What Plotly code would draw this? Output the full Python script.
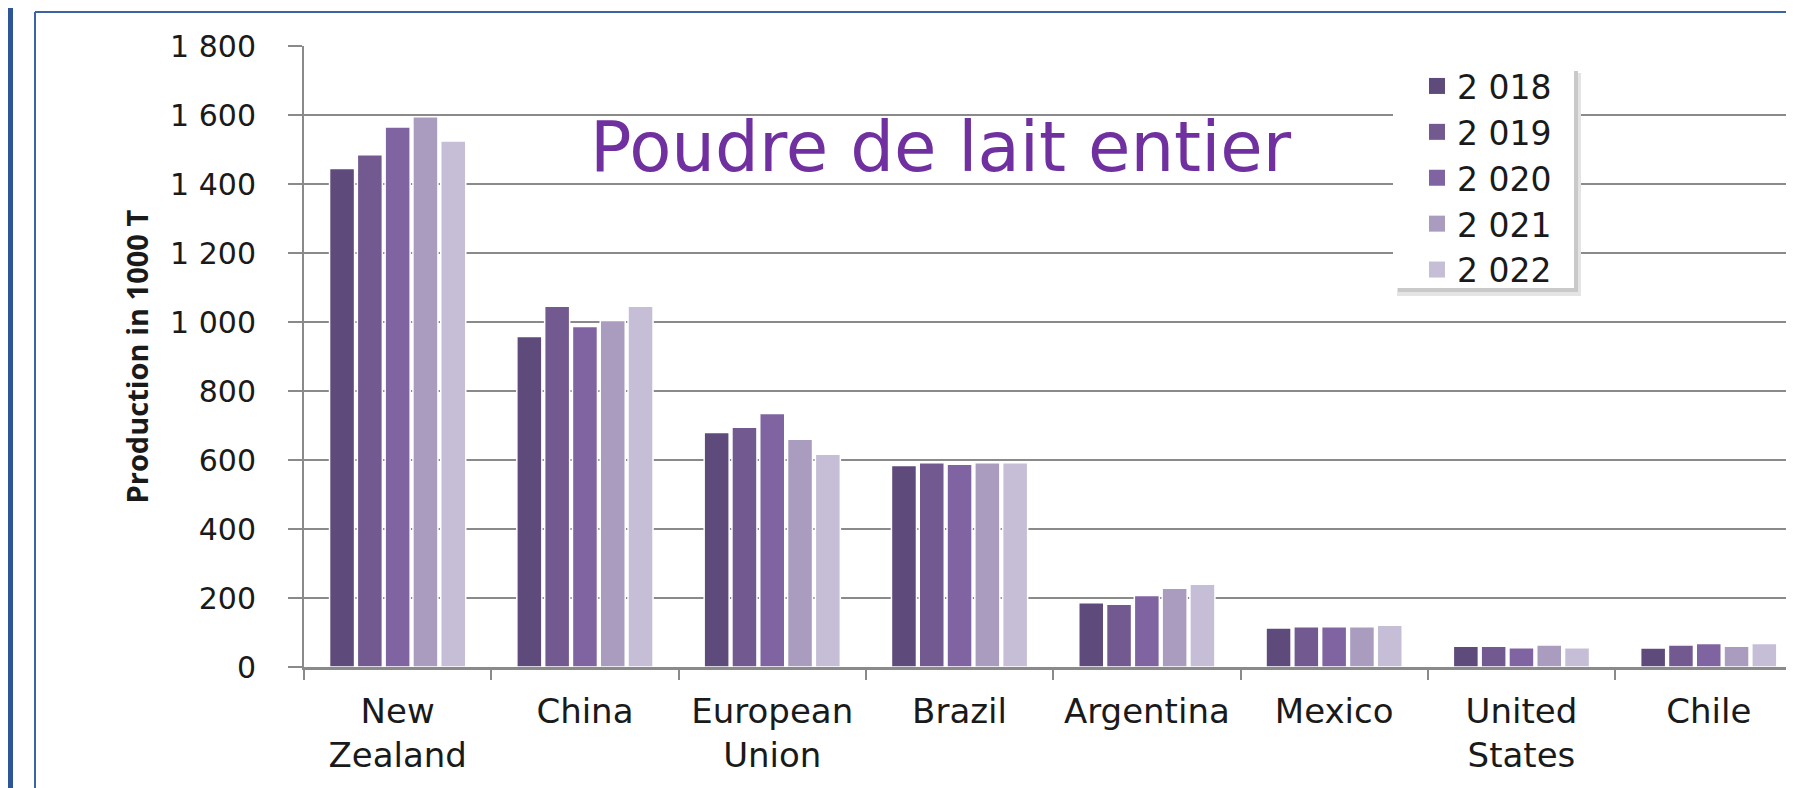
import plotly.graph_objects as go

# data (production, 1000 t)
countries = ["New<br>Zealand", "China", "European<br>Union", "Brazil",
             "Argentina", "Mexico", "United<br>States", "Chile"]
years = ["2 018", "2 019", "2 020", "2 021", "2 022"]
prod_2018 = [1445, 958, 680, 584, 186, 113, 60, 55]
prod_2019 = [1485, 1046, 695, 592, 182, 117, 60, 64]
prod_2020 = [1565, 987, 735, 588, 207, 117, 56, 68]
prod_2021 = [1595, 1004, 660, 592, 228, 117, 64, 60]
prod_2022 = [1525, 1046, 617, 592, 240, 121, 56, 68]
y_ticks = [0, 200, 400, 600, 800, 1000, 1200, 1400, 1600, 1800]
y_tick_labels = ["0", "200", "400", "600", "800", "1 000", "1 200", "1 400", "1 600", "1 800"]

series = [prod_2018, prod_2019, prod_2020, prod_2021, prod_2022]
colors = ['#5f4a7c', '#725a91', '#8064a2', '#a99cbf', '#c6bed7']

# the page body has an 8px margin, so the figure is drawn 8px smaller
BODY = 8
W, H = 1794 - BODY, 788 - BODY
L, R, T, B = 304 - BODY, 0, 46 - BODY, 121
PW, PH = W - L - R, H - T - B
GRID = '#8a8a8a'
TXT = '#1a1a1a'


def px(x):
    # screen pixel -> paper x
    return (x - BODY - L) / PW


def py(y):
    # screen pixel -> paper y
    return (H - B - (y - BODY)) / PH


fig = go.Figure()
for name, vals, c in zip(years, series, colors):
    fig.add_trace(go.Bar(x=countries, y=vals, name=name, showlegend=False,
                         marker=dict(color=c, line=dict(color='white', width=1.5))))
# legend-only entries so the swatches can be bigger than plotly's bar symbol
for name, c in zip(years, colors):
    fig.add_trace(go.Scatter(x=[None], y=[None], mode='markers', name=name,
                             marker=dict(symbol='square', size=20, color=c)))

shapes = [
    # frame of the original screenshot
    dict(type='line', x0=px(10), x1=px(10), y0=py(0), y1=py(800),
         line=dict(color='#2e5596', width=6)),
    dict(type='line', x0=px(35), x1=px(35), y0=py(12), y1=py(800),
         line=dict(color='#3c64a4', width=2)),
    dict(type='line', x0=px(35), x1=px(1800), y0=py(12), y1=py(12),
         line=dict(color='#3c64a4', width=2)),
    # legend box with its drop shadow
    dict(type='rect', x0=px(1397), x1=px(1581), y0=py(73), y1=py(296),
         fillcolor='#e4e4e4', line_width=0, layer='above'),
    dict(type='rect', x0=px(1398), x1=px(1578), y0=py(71), y1=py(292),
         fillcolor='#c9c9c9', line_width=0, layer='above'),
    dict(type='rect', x0=px(1393), x1=px(1574), y0=py(68), y1=py(288),
         fillcolor='white', line_width=0, layer='above'),
]
for s in shapes:
    s.update(xref='paper', yref='paper')

fig.update_layout(
    width=W, height=H, margin=dict(l=L, r=R, t=T, b=B),
    paper_bgcolor='white', plot_bgcolor='white',
    barmode='group', bargap=0.258, bargroupgap=0.1,
    font=dict(family='DejaVu Sans', color=TXT),
    shapes=shapes,
    legend=dict(x=px(1417), y=py(58), xanchor='left', yanchor='top',
                bgcolor='rgba(0,0,0,0)', font=dict(family='DejaVu Sans', size=33, color=TXT),
                itemwidth=30, tracegroupgap=0),
    annotations=[
        dict(text='Poudre de lait entier', xref='paper', yref='paper',
             x=px(941), y=py(147), xanchor='center', yanchor='middle', showarrow=False,
             font=dict(family='DejaVu Sans', size=69, color='#7030a0')),
        dict(text='<b>Production in 1000 T</b>', xref='paper', yref='paper',
             x=px(136), y=0.5, xanchor='center', yanchor='middle', showarrow=False,
             textangle=-90, font=dict(family='Open Sans', size=29, color=TXT)),
    ],
)
fig.update_xaxes(type='category', range=[-0.5, -0.5 + PW / 187.3],
                 showline=True, linecolor=GRID, linewidth=2.5,
                 ticks='outside', tickson='boundaries', ticklen=10, tickwidth=2, tickcolor=GRID,
                 ticklabelstandoff=12,
                 showgrid=False, tickfont=dict(family='DejaVu Sans', size=34, color=TXT))
fig.update_yaxes(range=[0, 1800], tickvals=y_ticks, ticktext=y_tick_labels,
                 showgrid=True, gridcolor=GRID, gridwidth=2, zeroline=False,
                 showline=True, linecolor=GRID, linewidth=2,
                 ticks='outside', ticklen=14, tickwidth=2, tickcolor=GRID,
                 ticklabelstandoff=26,
                 tickfont=dict(family='DejaVu Sans', size=30, color=TXT))

fig.write_html("out.html")
